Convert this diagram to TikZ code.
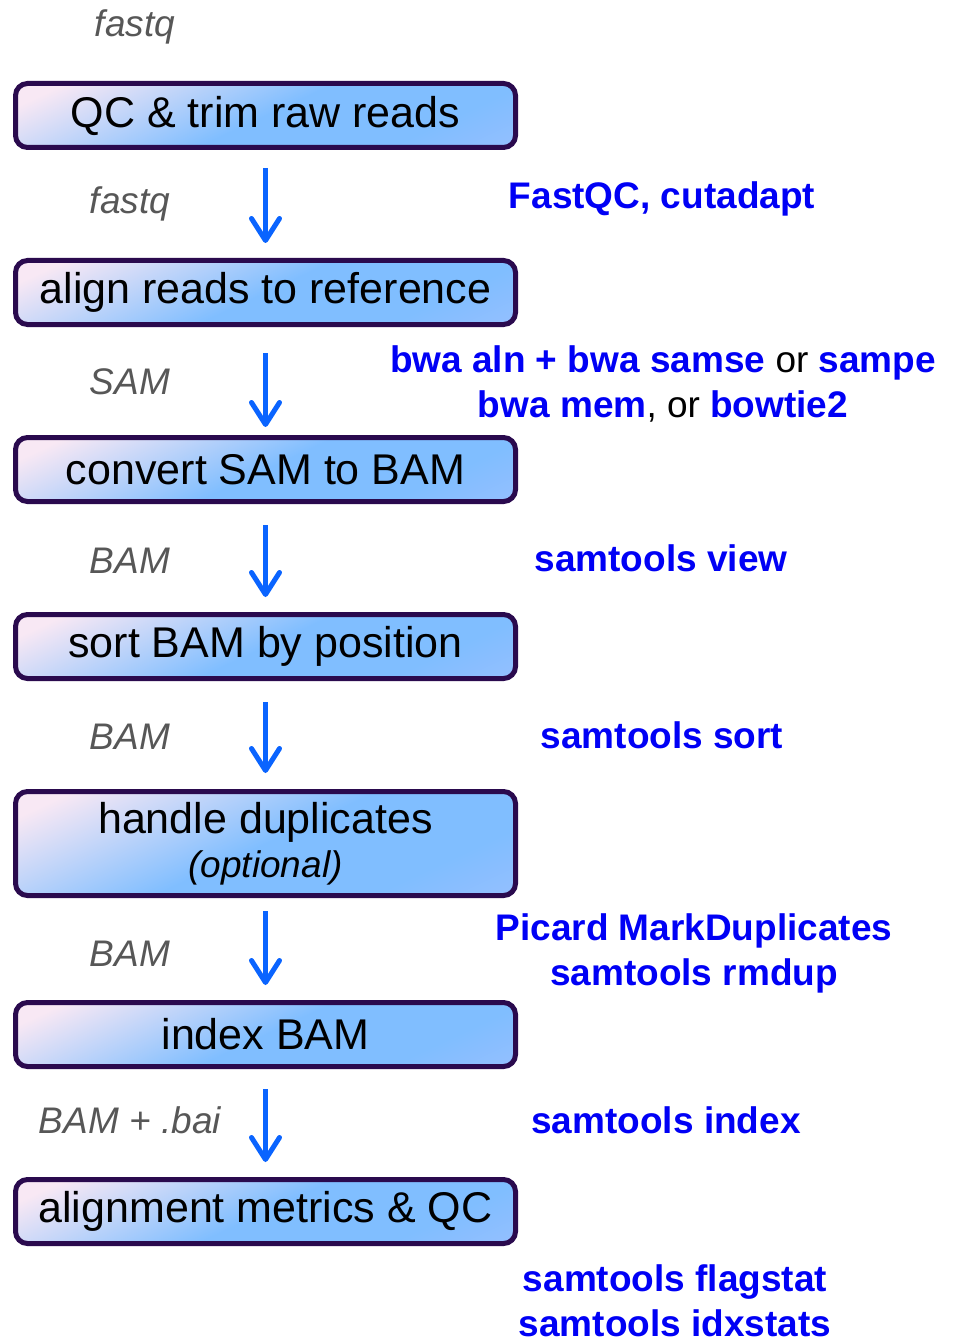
\documentclass[tikz,border=0pt]{standalone}
\usepackage{fontspec}
\setmainfont{Liberation Sans}
\usetikzlibrary{shapes,arrows.meta,positioning,calc}

\definecolor{boxedge}{HTML}{2A0A4E}
\definecolor{boxpink}{HTML}{F8E8F4}
\definecolor{boxblue}{HTML}{80BEFF}
\definecolor{boxlite}{HTML}{AEC0FF}
\definecolor{flowblue}{HTML}{0A64FF}
\definecolor{toolblue}{HTML}{0000F5}
\definecolor{filegray}{HTML}{575757}

\pgfdeclarehorizontalshading{stepshade}{100bp}{color(0bp)=(boxpink); color(22bp)=(boxpink); color(50bp)=(boxblue); color(70bp)=(boxblue); color(100bp)=(boxlite)}

\tikzset{
  stepbox/.style={draw=boxedge, line width=5pt, rounded corners=12pt, shade, shading=stepshade, shading angle=-65,
    minimum width=500pt, minimum height=64pt, inner sep=0pt, align=center, font=\fontsize{43}{47}\selectfont},
  filelabel/.style={anchor=base, text=filegray, font=\fontsize{37}{45}\selectfont\itshape},
  toollabel/.style={text=toolblue, align=center, font=\fontsize{37}{45}\selectfont\bfseries},
  flow/.style={draw=flowblue, line width=5pt, -{Straight Barb[length=22pt,width=28pt,round]}}
}

\begin{document}
\begin{tikzpicture}[x=1pt, y=-1pt, node distance=108pt]
\useasboundingbox (0,0) rectangle (957,1337);

% processing steps
\node[stepbox] (qc) at (265.5,115.5) {QC \& trim raw reads};
\node[stepbox, below=of qc] (align) {align reads to reference};
\node[stepbox, below=of align] (convert) {convert SAM to BAM};
\node[stepbox, below=of convert] (sort) {sort BAM by position};
\node[stepbox, minimum height=104pt, below=of sort] (dups) {handle duplicates\\[-3pt]{\fontsize{37}{45}\selectfont\itshape (optional)}};
\node[stepbox, below=102pt of dups] (index) {index BAM};
\node[stepbox, below=of index] (metrics) {alignment metrics \& QC};

% arrows between steps
\foreach \a/\b/\s/\t in {qc/align/18/15, align/convert/26/8, convert/sort/21/15, sort/dups/21/16, dups/index/13/15, index/metrics/20/15}
  \draw[flow, shorten <=\s pt, shorten >=\t pt] (\a) -- (\b);

% file formats
\node[filelabel] (in) at (135,37) {fastq};
\node[filelabel] (f1) at (130,214) {fastq};
\node[filelabel] (f2) at (130,394) {SAM};
\node[filelabel] (f3) at (130,573) {BAM};
\node[filelabel] (f4) at (130,749) {BAM};
\node[filelabel] (f5) at (130,966) {BAM};
\node[filelabel] (f6) at (130,1133) {BAM + .bai};

% tools
\node[toollabel] (t1) at (662,199) {FastQC, cutadapt};
\node[toollabel] (t2) at (663,384) {bwa aln + bwa samse {\color{black}\mdseries or} sampe\\bwa mem{\color{black}\mdseries , or} bowtie2};
\node[toollabel] (t3) at (661,558) {samtools view};
\node[toollabel] (t4) at (662,735) {samtools sort};
\node[toollabel] (t5) at (694,953) {Picard MarkDuplicates\\samtools rmdup};
\node[toollabel] (t6) at (666,1120) {samtools index};
\node[toollabel] (t7) at (675,1301) {samtools flagstat\\samtools idxstats};
\end{tikzpicture}
\end{document}
